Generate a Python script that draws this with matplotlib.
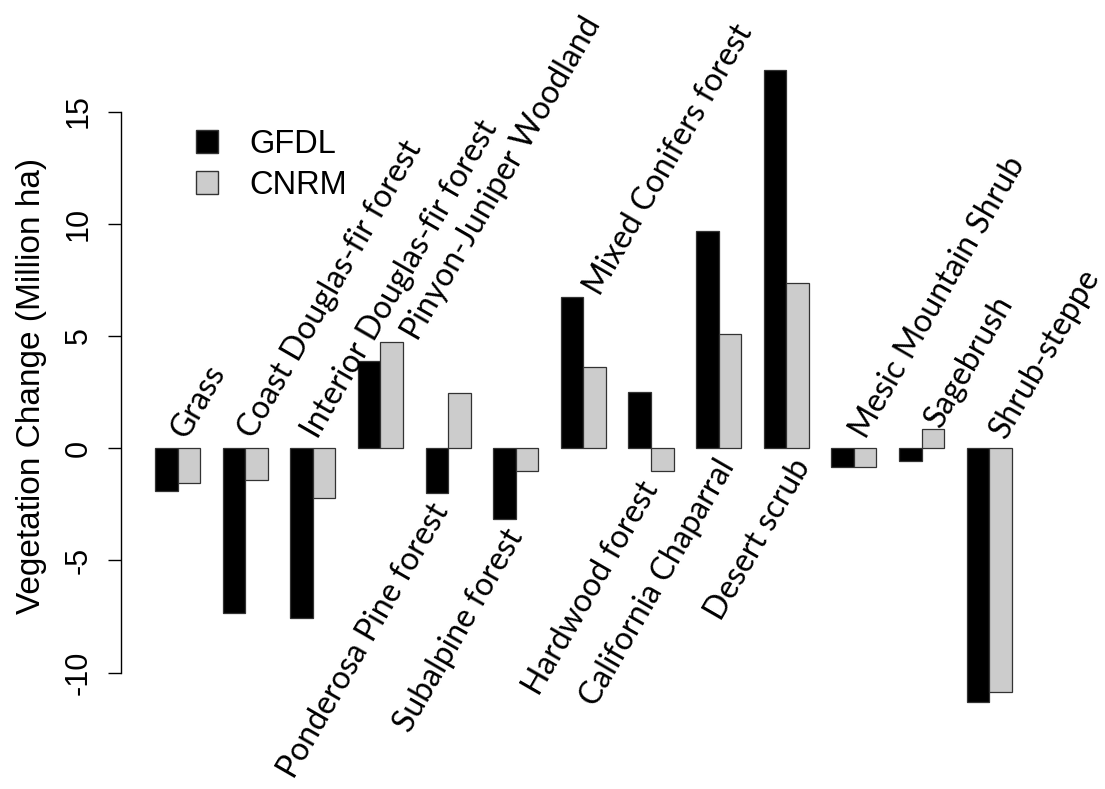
import matplotlib
matplotlib.use("Agg")
import matplotlib.pyplot as plt
from matplotlib.patches import Patch
import numpy as np

# ---- data ----
categories = ["Grass", "Coast Douglas-fir forest", "Interior Douglas-fir forest",
              "Pinyon-Juniper Woodland", "Ponderosa Pine forest", "Subalpine forest",
              "Mixed Conifers forest", "Hardwood forest", "California Chaparral",
              "Desert scrub", "Mesic Mountain Shrub", "Sagebrush", "Shrub-steppe"]
gfdl = [-1.89, -7.34, -7.59, 3.90, -1.98, -3.15, 6.73, 2.51, 9.66, 16.84, -0.86, -0.56, -11.30]
cnrm = [-1.56, -1.41, -2.23, 4.72, 2.46, -1.04, 3.61, -1.00, 5.08, 7.34, -0.86, 0.85, -10.88]
series_names = ["GFDL", "CNRM"]
yticks = [-10, -5, 0, 5, 10, 15]
ylabel = "Vegetation Change (Million ha)"

# ---- layout (label placement, not data) ----
label_side = ["above", "above", "above", "above", "below", "below", "above",
              "below", "below", "below", "above", "above", "above"]
label_dx = [1.38, 1.40, 1.24, 2.65, 0.15, 0.47, 1.75, 0.47, 0.82, 1.16, 1.52, 1.84, 1.75]

W, H, DPI = 1105, 789, 100
fig = plt.figure(figsize=(W / DPI, H / DPI), dpi=DPI)

n = len(categories)
starts = np.arange(n) * 3 + 1.0
xmin, xmax = starts[0], starts[-1] + 2
pad_x = 0.04 * (xmax - xmin)
allv = np.array(gfdl + cnrm)
lo, hi = allv.min(), allv.max()
pad_y = 0.04 * (hi - lo)

ax = fig.add_axes([120.7 / W, 1 - 727 / H, (1046 - 120.7) / W, (727 - 45) / H])
ax.set_xlim(xmin - pad_x, xmax + pad_x)
ax.set_ylim(lo - pad_y, hi + pad_y)

ax.bar(starts + 0.5, gfdl, width=1.0, color="black", edgecolor="#333333", linewidth=0.9, zorder=2)
ax.bar(starts + 1.5, cnrm, width=1.0, color="#CCCCCC", edgecolor="#333333", linewidth=0.9, zorder=2)

for sp in ["top", "right", "bottom"]:
    ax.spines[sp].set_visible(False)
ax.spines["left"].set_bounds(min(yticks), max(yticks))
ax.spines["left"].set_linewidth(1.0)
ax.set_xticks([])
ax.set_yticks(yticks)
ax.set_yticklabels([str(t) for t in yticks], rotation=90, va="center",
                   fontsize=22, family="Liberation Sans")
ax.tick_params(axis="y", length=9.5, width=1.0, pad=10)
ax.set_ylabel(ylabel, fontsize=24, family="Liberation Sans", labelpad=12)

lab_font = dict(fontsize=23, family="Lato", rotation=60, rotation_mode="anchor")
for i, name in enumerate(categories):
    x = starts[i] + label_dx[i]
    if label_side[i] == "above":
        top = max(gfdl[i], cnrm[i])
        y = top + 0.02 if top > 0 else 0.35
        ax.text(x, y, name, ha="left", va="baseline", **lab_font)
    else:
        y = min(0.0, gfdl[i], cnrm[i]) - 0.25
        ax.text(x, y, name, ha="right", va="top", **lab_font)

handles = [Patch(facecolor="black", edgecolor="#333333"),
           Patch(facecolor="#CCCCCC", edgecolor="#333333")]
leg = fig.legend(handles, series_names, loc="upper left",
                 bbox_to_anchor=(196 / W, 1 - 129 / H), frameon=False,
                 prop=dict(family="Liberation Sans", size=23.5),
                 handlelength=0.68, handleheight=0.68, handletextpad=0.95,
                 labelspacing=0.3, borderpad=0, borderaxespad=0)

fig.savefig("out.png", dpi=DPI)
